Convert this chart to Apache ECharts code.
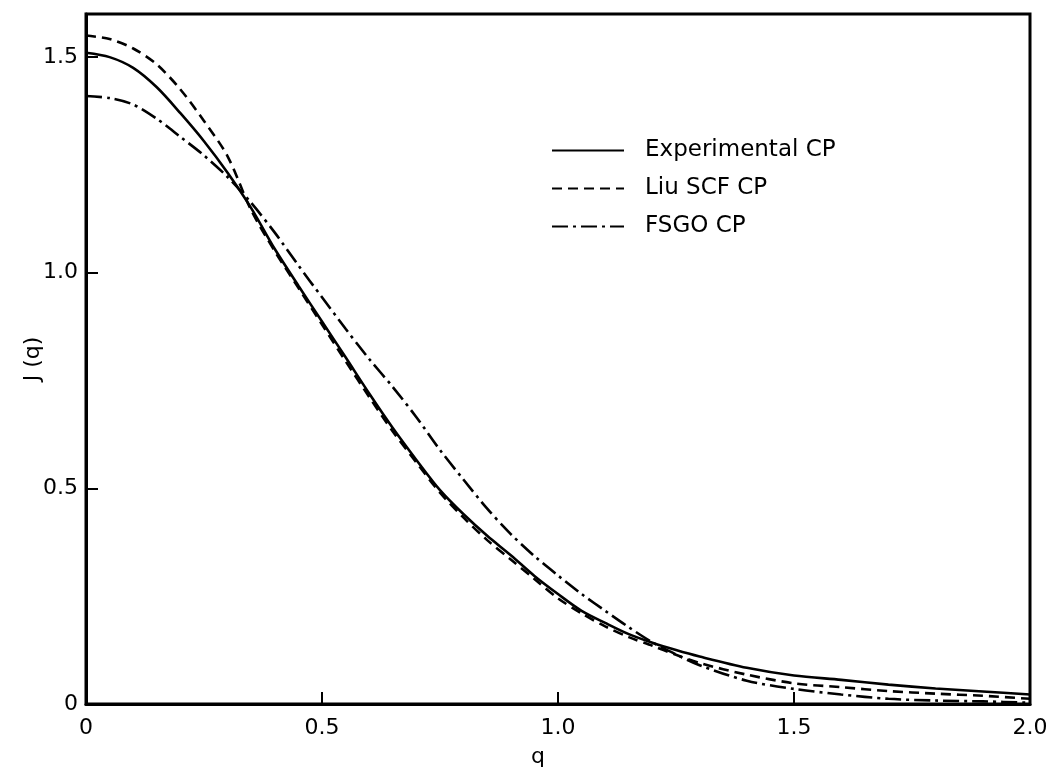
<!DOCTYPE html>
<html>
<head>
<meta charset="utf-8">
<title>J(q) Compton profiles</title>
<script src="https://cdn.jsdelivr.net/npm/echarts@6/dist/echarts.min.js"></script>
<style>
  html, body { margin: 0; padding: 0; background: #fff; }
  #chart { width: 1053px; height: 769px; }
</style>
</head>
<body>
<div id="chart"></div>
<script>
// q values (a.u.) the curves were read at
const qValues = [0, 0.05, 0.1, 0.15, 0.2, 0.25, 0.3, 0.35, 0.4, 0.45, 0.5, 0.55, 0.6, 0.65, 0.7,
  0.75, 0.8, 0.85, 0.9, 0.95, 1.0, 1.05, 1.1, 1.15, 1.2, 1.25, 1.3, 1.4, 1.5, 1.6, 1.7, 1.8, 1.9, 2.0];

// J(q)
const experimentalCP = [1.51, 1.50, 1.475, 1.43, 1.37, 1.305, 1.232, 1.15, 1.055, 0.97, 0.887, 0.804, 0.72, 0.64, 0.566,
  0.496, 0.44, 0.39, 0.345, 0.297, 0.255, 0.216, 0.188, 0.162, 0.142, 0.125, 0.11, 0.084, 0.066, 0.056, 0.045, 0.036, 0.029, 0.022];
const liuScfCP = [1.55, 1.542, 1.52, 1.483, 1.425, 1.352, 1.27, 1.145, 1.05, 0.965, 0.88, 0.795, 0.712, 0.632, 0.56,
  0.49, 0.432, 0.38, 0.335, 0.29, 0.245, 0.21, 0.18, 0.155, 0.135, 0.114, 0.095, 0.068, 0.048, 0.039, 0.03, 0.024, 0.019, 0.012];
const fsgoCP = [1.41, 1.405, 1.39, 1.357, 1.315, 1.272, 1.222, 1.162, 1.093, 1.017, 0.943, 0.87, 0.80, 0.735, 0.665,
  0.589, 0.52, 0.453, 0.394, 0.343, 0.298, 0.255, 0.216, 0.178, 0.143, 0.115, 0.09, 0.054, 0.035, 0.022, 0.012, 0.008, 0.006, 0.003];

const seriesNames = ['Experimental CP', 'Liu SCF CP', 'FSGO CP'];

const font = 'DejaVu Sans';

function pairs(ys) {
  return qValues.map((q, i) => [q, ys[i]]);
}

function lineSeries(name, ys, dash) {
  return {
    name: name,
    type: 'line',
    smooth: 0.3,
    symbol: 'none',
    color: '#000',
    lineStyle: { color: '#000', width: 2.6, type: dash },
    data: pairs(ys)
  };
}

const chart = echarts.init(document.getElementById('chart'));

chart.setOption({
  animation: false,
  backgroundColor: '#fff',
  grid: {
    left: 86,
    right: 23,
    top: 14,
    bottom: 65,
    outerBoundsMode: 'none',
    show: true,
    borderColor: '#000',
    borderWidth: 3
  },
  legend: {
    orient: 'vertical',
    left: 546,
    top: 134,
    itemWidth: 72,
    itemHeight: 14,
    itemGap: 15,
    data: seriesNames,
    // hide the symbol dot, keep only the line sample
    itemStyle: { color: 'rgba(0,0,0,0)', borderWidth: 0 },
    textStyle: {
      fontFamily: font,
      fontSize: 23,
      color: '#000',
      padding: [0, 0, 0, 16]
    }
  },
  xAxis: {
    type: 'value',
    min: 0,
    max: 2,
    interval: 0.5,
    name: 'q',
    nameLocation: 'middle',
    nameGap: 42,
    nameMoveOverlap: false,
    nameTextStyle: { fontFamily: font, fontSize: 22, color: '#000', padding: [0, 40, 0, 0] },
    splitLine: { show: false },
    axisLine: { lineStyle: { color: '#000', width: 3 } },
    axisTick: { inside: true, length: 12, lineStyle: { color: '#000', width: 2 } },
    axisLabel: {
      margin: 13,
      fontFamily: font,
      fontSize: 22,
      color: '#000',
      formatter: (v) => (v === 0 ? '0' : v.toFixed(1))
    }
  },
  yAxis: {
    type: 'value',
    min: 0,
    max: 1.6,
    interval: 0.5,
    name: 'J (q)',
    nameLocation: 'middle',
    nameRotate: 90,
    nameGap: 42,
    nameMoveOverlap: false,
    nameTextStyle: { fontFamily: font, fontSize: 22, color: '#000' },
    splitLine: { show: false },
    axisLine: { lineStyle: { color: '#000', width: 3 } },
    axisTick: { inside: true, length: 12, lineStyle: { color: '#000', width: 2 } },
    axisLabel: {
      margin: 8,
      showMaxLabel: false,
      fontFamily: font,
      fontSize: 22,
      color: '#000',
      formatter: (v) => (v === 0 ? '0' : (v > 1.55 ? '' : v.toFixed(1)))
    }
  },
  series: [
    lineSeries(seriesNames[0], experimentalCP, 'solid'),
    lineSeries(seriesNames[1], liuScfCP, [10, 6]),
    lineSeries(seriesNames[2], fsgoCP, [16, 5, 3, 5])
  ]
});
</script>
</body>
</html>
